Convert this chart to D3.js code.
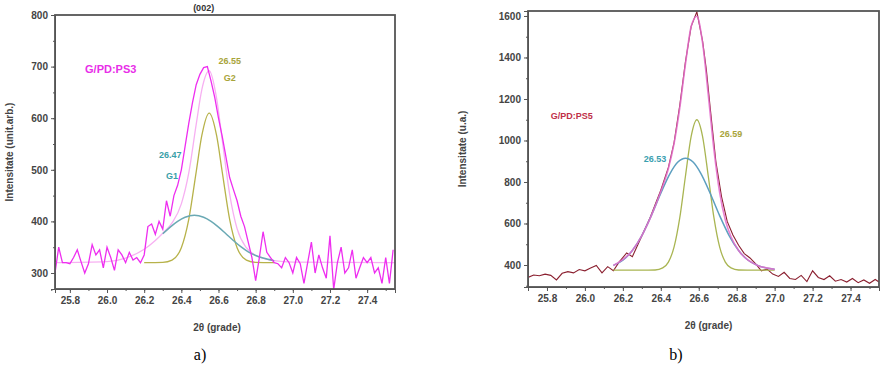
<!DOCTYPE html>
<html>
<head>
<meta charset="utf-8">
<script src="https://cdn.jsdelivr.net/npm/d3@7"></script>
<style>
  body { margin: 0; background: #fff; }
  svg text { font-family: "Liberation Sans", Arial, sans-serif; }
  .tick text { font-weight: bold; fill: #444; font-size: 10px; }
  .axis path, .axis line { stroke: #555; }
</style>
</head>
<body>
<div id="chart-area"></div>
<script>
// --- panel a) G/PD:PS3 ---
const aDataX = [25.72,25.74,25.76,25.78,25.80,25.82,25.84,25.86,25.88,25.90,25.92,25.94,25.96,25.98,26.00,26.02,26.04,26.06,26.08,26.10,26.12,26.14,26.16,26.18,26.20,26.22,26.24,26.26,26.28,26.30,26.32,26.34,26.36,26.38,26.40,26.42,26.44,26.46,26.48,26.50,26.52,26.54,26.56,26.58,26.60,26.62,26.64,26.66,26.68,26.70,26.72,26.74,26.76,26.78,26.80,26.82,26.84,26.86,26.88,26.90,26.92,26.94,26.96,26.98,27.00,27.02,27.04,27.06,27.08,27.10,27.12,27.14,27.16,27.18,27.20,27.22,27.24,27.26,27.28,27.30,27.32,27.34,27.36,27.38,27.40,27.42,27.44,27.46,27.48,27.50,27.52,27.54]
const aDataY = [300,350,320,320,318,330,345,322,300,318,355,335,345,310,350,330,305,345,335,320,340,325,330,320,335,390,395,375,400,385,440,410,450,470,500,545,590,630,665,685,698,700,672,640,600,565,525,485,462,440,410,390,360,330,285,330,380,340,330,320,318,310,330,320,300,330,318,280,320,360,300,335,310,290,372,268,320,350,300,310,345,290,310,330,320,330,300,310,280,330,280,345]
const aSumX = [25.72,26.00,26.10,26.20,26.26,26.30,26.35,26.40,26.44,26.48,26.51,26.55,26.59,26.62,26.66,26.70,26.75,26.80,26.90,27.00,27.55]
const aSumY = [320,322,329,346,363,377,397,434,494,588,655,692,638,558,453,386,349,334,324,321,320]
const aG1X = [26.30,26.34,26.38,26.42,26.47,26.52,26.56,26.60,26.64,26.68,26.72,26.76,26.80,26.84,26.90]
const aG1Y = [376,389,400,408,412,408,400,389,376,363,351,341,334,329,324]
const aG2X = [26.20,26.30,26.35,26.40,26.44,26.48,26.51,26.55,26.59,26.62,26.66,26.70,26.75,26.80,26.90]
const aG2Y = [320,320.5,325,349,404,496,566,610,566,496,404,349,325,320.5,320]
const aYTicks = [300,400,500,600,700,800]

// --- panel b) G/PD:PS5 ---
const bDataX = [25.70,25.73,25.76,25.79,25.82,25.85,25.88,25.91,25.94,25.97,26.00,26.03,26.06,26.09,26.12,26.15,26.18,26.22,26.25,26.28,26.31,26.34,26.37,26.40,26.44,26.47,26.50,26.53,26.56,26.59,26.62,26.64,26.66,26.69,26.72,26.75,26.78,26.81,26.84,26.87,26.90,26.93,26.96,26.99,27.02,27.05,27.08,27.11,27.14,27.17,27.20,27.23,27.26,27.29,27.32,27.35,27.38,27.41,27.44,27.47,27.50,27.53,27.55]
const bDataY = [340,352,348,356,350,328,360,368,362,378,372,385,398,362,392,372,414,458,440,500,560,620,690,760,870,990,1170,1380,1550,1620,1480,1340,1160,900,730,610,545,495,455,434,405,372,380,356,345,365,335,330,350,320,372,340,330,348,322,330,318,335,315,328,312,330,318]
const bSumX = [26.15,26.25,26.30,26.35,26.40,26.44,26.47,26.50,26.53,26.56,26.59,26.62,26.65,26.68,26.71,26.74,26.77,26.81,26.86,26.91,27.00]
const bSumY = [398,470,542,638,754,865,986,1157,1369,1549,1599,1471,1221,956,750,617,536,470,423,398,379]
const bG1X = [26.15,26.20,26.25,26.30,26.35,26.40,26.45,26.49,26.53,26.57,26.61,26.66,26.71,26.76,26.81,26.86,26.91,27.00]
const bG1Y = [398,423,470,542,638,746,843,896,915,896,843,746,638,542,470,423,398,379]
const bG2X = [26.15,26.30,26.37,26.41,26.44,26.47,26.50,26.53,26.56,26.59,26.62,26.65,26.68,26.71,26.74,26.77,26.81,26.90,27.00]
const bG2Y = [375,375,376,386,414,487,628,829,1020,1100,1020,829,628,487,414,386,376,375,375]
const bYTicks = [400,600,800,1000,1200,1400,1600]

const xTicks = [25.8,26.0,26.2,26.4,26.6,26.8,27.0,27.2,27.4]

const svg = d3.select("#chart-area").append("svg")
  .attr("width", 884)
  .attr("height", 366)

function zip(xs, ys) { return xs.map((x, i) => [x, ys[i]]) }

function panel(cfg) {
  const x = d3.scaleLinear().domain(cfg.xDomain).range([cfg.left, cfg.right])
  const y = d3.scaleLinear().domain(cfg.yDomain).range([cfg.bottom, cfg.top])
  const g = svg.append("g")

  // ticks menores
  const xMinor = d3.axisBottom(x).tickValues(d3.range(25.7, 27.56, 0.1)).tickSize(2).tickFormat("")
  g.append("g").attr("class", "axis").attr("transform", `translate(0,${cfg.bottom})`).call(xMinor)
    .select(".domain").remove()
  const yMinor = d3.axisLeft(y).tickValues(cfg.yMinor).tickSize(2).tickFormat("")
  g.append("g").attr("class", "axis").attr("transform", `translate(${cfg.left},0)`).call(yMinor)
    .select(".domain").remove()

  g.append("g").attr("class", "axis").attr("transform", `translate(0,${cfg.bottom})`)
    .call(d3.axisBottom(x).tickValues(xTicks).tickSize(4).tickPadding(4).tickFormat(d3.format(".1f")))
  g.append("g").attr("class", "axis").attr("transform", `translate(${cfg.left},0)`)
    .call(d3.axisLeft(y).tickValues(cfg.yTicks).tickSize(4).tickPadding(3).tickFormat(d3.format("d")))

  const line = d3.line().x(d => x(d[0])).y(d => y(d[1]))
  const smooth = d3.line().x(d => x(d[0])).y(d => y(d[1])).curve(d3.curveMonotoneX)

  const clip = "clip-" + cfg.id
  g.append("clipPath").attr("id", clip).append("rect")
    .attr("x", cfg.left).attr("y", cfg.top).attr("width", cfg.right - cfg.left).attr("height", cfg.bottom - cfg.top)
  const plot = g.append("g").attr("clip-path", `url(#${clip})`)

  cfg.layers.forEach(l => {
    plot.append("path").datum(zip(l.x, l.y))
      .attr("fill", "none").attr("stroke", l.color).attr("stroke-width", l.width)
      .attr("stroke-opacity", l.opacity || 1)
      .attr("d", l.smooth ? smooth : line)
  })

  // moldura
  g.append("rect").attr("x", cfg.left).attr("y", cfg.top)
    .attr("width", cfg.right - cfg.left).attr("height", cfg.bottom - cfg.top)
    .attr("fill", "none").attr("stroke", "#555").attr("stroke-width", 1.8)

  g.append("text").attr("transform", `translate(${cfg.yTitleX},${(cfg.top + cfg.bottom) / 2}) rotate(-90)`)
    .attr("text-anchor", "middle").attr("font-size", "10px").attr("font-weight", "bold").attr("fill", "#444")
    .text(cfg.yTitle)
  g.append("text").attr("x", (cfg.left + cfg.right) / 2 - cfg.xTitleShift).attr("y", cfg.bottom + 42)
    .attr("text-anchor", "middle").attr("font-size", "10px").attr("font-weight", "bold").attr("fill", "#444")
    .text("2θ (grade)")
  g.append("text").attr("x", cfg.captionX).attr("y", 360)
    .attr("text-anchor", "middle").attr("font-size", "16px")
    .style("font-family", "'Liberation Serif', 'Times New Roman', serif")
    .text(cfg.caption)

  cfg.labels.forEach(t => {
    g.append("text").attr("x", x(t.x)).attr("y", y(t.y))
      .attr("text-anchor", "middle").attr("font-size", t.size || "9px").attr("font-weight", "bold")
      .attr("fill", t.color).text(t.text)
  })
}

panel({
  id: "a", left: 55, right: 395, top: 15, bottom: 289,
  xDomain: [25.72, 27.55], yDomain: [269, 800],
  yTicks: aYTicks, yMinor: d3.range(300, 801, 50),
  yTitle: "Intensitate (unit.arb.)", yTitleX: 13, xTitleShift: 8,
  caption: "a)", captionX: 200,
  layers: [
    { x: aSumX, y: aSumY, color: "#f7b0f2", width: 1.3, smooth: true },
    { x: aG2X, y: aG2Y, color: "#b7b24a", width: 1.3, smooth: true },
    { x: aG1X, y: aG1Y, color: "#6aa9b4", width: 1.5, smooth: true },
    { x: aDataX, y: aDataY, color: "#ee2ef0", width: 1.3 }
  ],
  labels: [
    { x: 26.02, y: 688, text: "G/PD:PS3", color: "#e82ee8", size: "11px" },
    { x: 26.52, y: 808, text: "(002)", color: "#333", size: "9px" },
    { x: 26.66, y: 706, text: "26.55", color: "#a8a43a" },
    { x: 26.66, y: 673, text: "G2", color: "#a8a43a" },
    { x: 26.34, y: 522, text: "26.47", color: "#3aa0a8" },
    { x: 26.35, y: 482, text: "G1", color: "#3aa0a8" }
  ]
})

panel({
  id: "b", left: 528, right: 879, top: 11, bottom: 287,
  xDomain: [25.7, 27.55], yDomain: [294, 1624],
  yTicks: bYTicks, yMinor: d3.range(300, 1601, 100),
  yTitle: "Intensitate (u.a.)", yTitleX: 466, xTitleShift: -5,
  caption: "b)", captionX: 676,
  layers: [
    { x: bDataX, y: bDataY, color: "#8b2030", width: 1.1 },
    { x: bG2X, y: bG2Y, color: "#a9b552", width: 1.3, smooth: true },
    { x: bG1X, y: bG1Y, color: "#5d9fc0", width: 1.5, smooth: true },
    { x: bSumX, y: bSumY, color: "#e46ccc", width: 1.6, smooth: true, opacity: 0.85 }
  ],
  labels: [
    { x: 25.93, y: 1105, text: "G/PD:PS5", color: "#c03048" },
    { x: 26.77, y: 1018, text: "26.59", color: "#a8a43a" },
    { x: 26.37, y: 895, text: "26.53", color: "#3aa0b0" }
  ]
})
</script>
</body>
</html>
